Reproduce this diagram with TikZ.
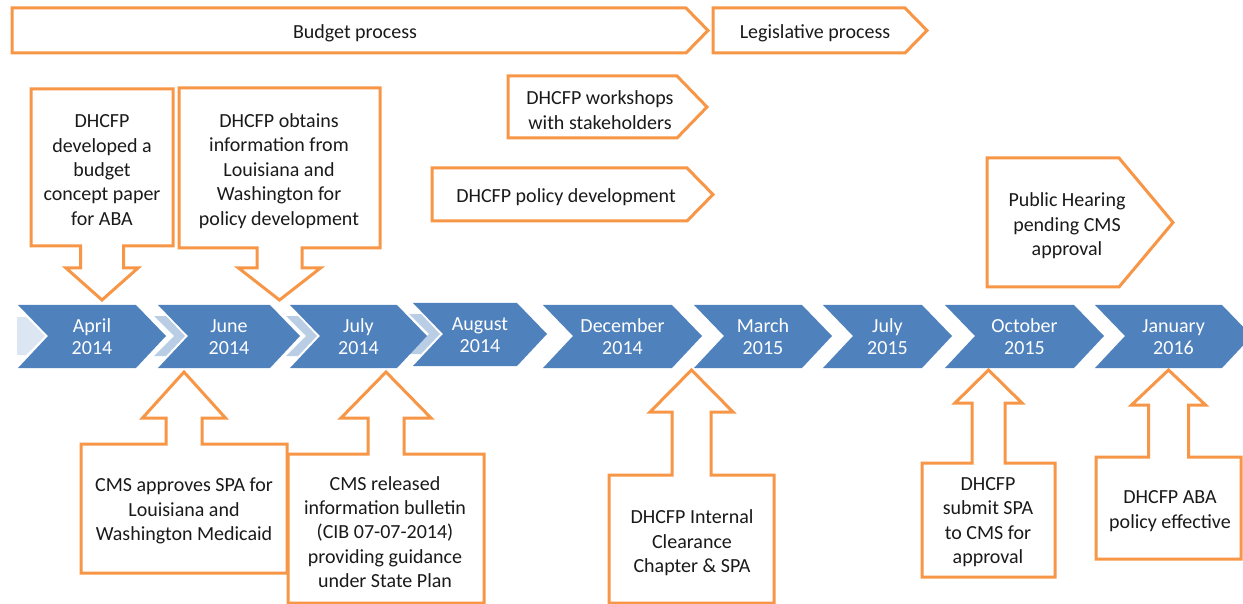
\documentclass[tikz,border=0pt]{standalone}
\usepackage{fontspec}
\setmainfont{Carlito}

\definecolor{chevblue}{HTML}{4F81BD}
\definecolor{paleblue}{HTML}{B9CDE5}
\definecolor{faintblue}{HTML}{DCE6F2}
\definecolor{callorange}{HTML}{F79646}
\definecolor{inktext}{HTML}{1A1A1A}

\tikzset{
  callbox/.style={draw=callorange, line width=3pt, fill=white},
  chev/.style={fill=chevblue},
  calltext/.style={text=inktext, align=center, inner sep=0pt, yshift=-2pt, font=\fontsize{20}{24.4}\selectfont},
  monthtext/.style={text=white, align=center, inner sep=0pt, yshift=-1pt, font=\fontsize{20}{22}\selectfont}
}

\begin{document}
\begin{tikzpicture}[x=1pt, y=-1pt]

\useasboundingbox (0,0) rectangle (1243,604);

% Banner shapes: left, right top, tip, top, bottom
\def\banner#1#2#3#4#5{\draw[callbox] (#1,#4) -- (#2,#4) -- (#3,{(#4+#5)/2}) -- (#2,#5) -- (#1,#5) -- cycle;}

% Block arrow callouts: centre, half width, near side, far side, stem, head, head base, tip
\def\callout#1#2#3#4#5#6#7#8{\draw[callbox] ({#1-#2},#4) -- ({#1-#2},#3) -- ({#1-#5},#3) -- ({#1-#5},#7)
  -- ({#1-#6},#7) -- (#1,#8) -- ({#1+#6},#7) -- ({#1+#5},#7) -- ({#1+#5},#3) -- ({#1+#2},#3)
  -- ({#1+#2},#4) -- cycle;}

% Processes along the top
\banner{12}{686}{708}{8}{53}
\node[calltext] (budget) at (355,31) {Budget process};
\banner{713}{905}{927}{8}{53}
\node[calltext] (legis) at (815,31) {Legislative process};
\banner{508}{677}{707}{76}{138}
\node[calltext] (workshop) at (600,108) {DHCFP workshops\\with stakeholders};
\banner{432}{687}{713}{168}{221}
\node[calltext] (policydev) at (566,195) {DHCFP policy development};
\banner{987}{1119}{1173}{158}{287}
\node[calltext] (hearing) at (1067,224) {Public Hearing\\pending CMS\\approval};

% Callouts above the timeline
\callout{102}{71}{246}{89}{21.5}{36}{268}{300}
\node[calltext] (concept) at (102,168) {DHCFP\\developed a\\budget\\concept paper\\for ABA};
\callout{279.5}{100.5}{248}{88}{22.5}{41}{268}{300}
\node[calltext] (obtain) at (279,169) {DHCFP obtains\\information from\\Louisiana and\\Washington for\\policy development};

% Light pieces in the notches
\fill[faintblue] (17,317) -- (26,317) -- (45,336) -- (26,355) -- (17,355) -- cycle;
\foreach \lx/\ty in {158/305, 290/305, 413/303}{
  \fill[paleblue] (\lx-4,\ty+11) -- (\lx+8,\ty+11) -- (\lx+27,\ty+31) -- (\lx+8,\ty+51)
    -- (\lx-4,\ty+51) -- (\lx+16,\ty+31) -- cycle;
}

% Timeline chevrons
\foreach \lx/\tx/\ty/\mon/\yr [count=\i] in {18/166/305/April/2014, 158/300/305/June/2014,
    290/427/305/July/2014, 413/547/303/August/2014, 543/702/305/December/2014,
    694/832/305/March/2015, 823/952/305/July/2015, 945/1104/305/October/2015,
    1095/1252/305/January/2016}{
  \fill[chev] (\lx,\ty) -- (\tx-30,\ty) -- (\tx,\ty+31) -- (\tx-30,\ty+63) -- (\lx,\ty+63)
    -- (\lx+30,\ty+31) -- cycle;
  \node[monthtext] (m\i) at ({(\lx+\tx)/2},\ty+31) {\mon\\\yr};
}

% Callouts below the timeline
\callout{184}{103}{444}{573}{18}{41.5}{418}{372}
\node[calltext] (approve) at (184,509) {CMS approves SPA for\\Louisiana and\\Washington Medicaid};
\callout{386}{98}{454}{603}{18}{45}{418}{372}
\node[calltext] (cib) at (385,530) {CMS released\\information bulletin\\(CIB 07-07-2014)\\providing guidance\\under State Plan};
\callout{691.5}{82.5}{475}{603}{19.5}{41.5}{412}{370}
\node[calltext] (clearance) at (692,541) {DHCFP Internal\\Clearance\\Chapter \& SPA};
\callout{988.5}{66.5}{463}{577}{16.5}{33.5}{403}{370}
\node[calltext] (submit) at (988,520) {DHCFP\\submit SPA\\to CMS for\\approval};
\callout{1168.5}{72.5}{457}{559}{20}{37}{405}{370}
\node[calltext] (effective) at (1170,509) {DHCFP ABA\\policy effective};

\end{tikzpicture}
\end{document}
